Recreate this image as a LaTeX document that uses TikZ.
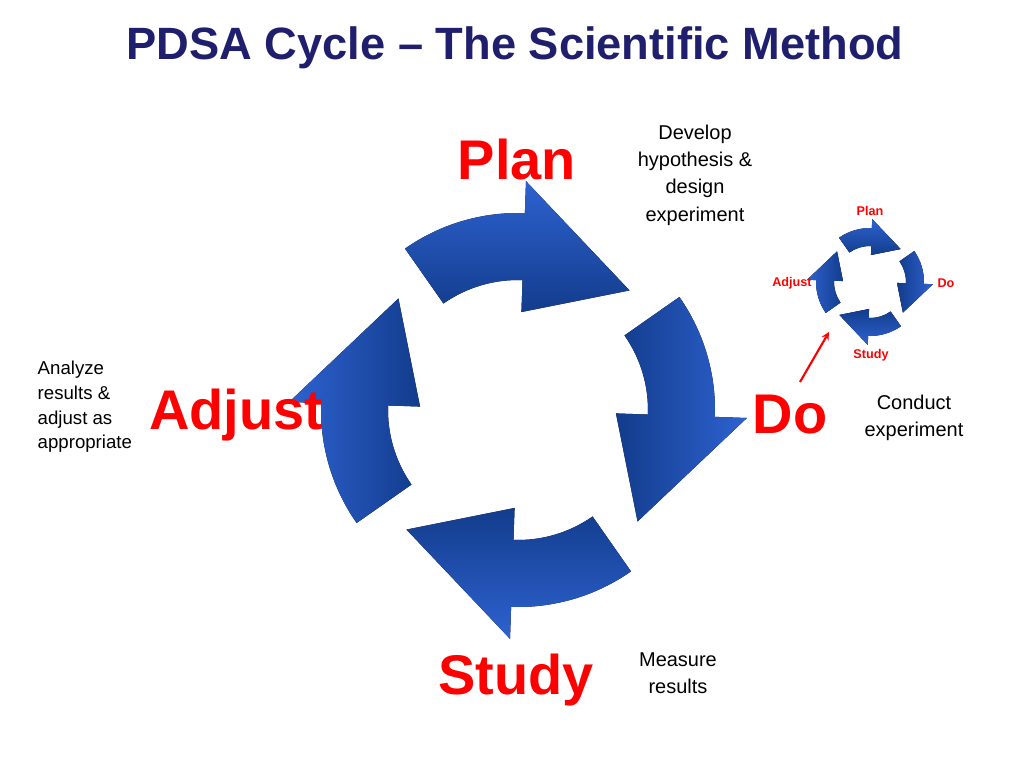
\documentclass[tikz,border=0pt]{standalone}
\usepackage{fontspec}
\setmainfont{Liberation Sans}
\usetikzlibrary{calc}
\definecolor{navy}{HTML}{1F1F6E}
\definecolor{pred}{HTML}{FF0000}
\definecolor{bdark}{HTML}{123C8C}
\definecolor{blight}{HTML}{2E62D0}
\newcommand{\cycarrow}[9]{%
 \fill[top color=blight,bottom color=bdark,shading angle=#9] ($(#1)+(#2:#6)$) arc[start angle=#2,end angle=#3,radius=#6]
  -- ($(#1)+(#3:#6+#7)$) -- ($(#1)+(#4:#5/2+#6/2)$) -- ($(#1)+(#3:#5-#7)$) -- ($(#1)+(#3:#5)$)
  arc[start angle=#3,end angle=#2,radius=#5] -- cycle;}
\begin{document}
\begin{tikzpicture}[x=0.0264cm,y=0.0264cm,
 big/.style={font=\bfseries\fontsize{42}{48}\selectfont,text=pred},
 side/.style={font=\fontsize{15}{20.5}\selectfont,align=center,text=black},
 small/.style={font=\bfseries\fontsize{9.5}{11}\selectfont,text=pred}]
\useasboundingbox (0,0) rectangle (1024,768);
\coordinate (c) at (518,358);
\coordinate (sc) at (870,486);
\cycarrow{c}{125}{88}{47}{130}{197}{32}{p}{0}
\cycarrow{c}{35}{-2}{-43}{130}{197}{32}{d}{-90}
\cycarrow{c}{-55}{-92}{-133}{130}{197}{32}{s}{180}
\cycarrow{c}{-145}{-182}{-223}{130}{197}{32}{a}{90}
\cycarrow{sc}{125}{88}{47}{36}{54}{9}{p}{0}
\cycarrow{sc}{35}{-2}{-43}{36}{54}{9}{d}{-90}
\cycarrow{sc}{-55}{-92}{-133}{36}{54}{9}{s}{180}
\cycarrow{sc}{-145}{-182}{-223}{36}{54}{9}{a}{90}
\node[font=\bfseries\fontsize{34}{40}\selectfont,text=navy] (title) at (515,720) {PDSA Cycle -- The Scientific Method};
\node[big] (plan) at (517,608) {Plan};
\node[big] (do) at (790,353) {Do};
\node[big] (study) at (516,88) {Study};
\node[big] (adjust) at (236,353) {Adjust};
\node[side] (t1) at (695,593) {Develop\\hypothesis \&\\design\\experiment};
\node[side] (t2) at (914,350) {Conduct\\experiment};
\node[side] (t3) at (678,95) {Measure\\results};
\node[side,align=left,anchor=west,font=\fontsize{14}{18.5}\selectfont] (t4) at (33,361) {Analyze\\results \&\\adjust as\\appropriate};
\node[small] (sp) at (870,557) {Plan};
\node[small] (sd) at (946,485) {Do};
\node[small] (ss) at (871,413) {Study};
\node[small] (sa) at (792,485) {Adjust};
\coordinate (r1) at (800,386);
\coordinate (r2) at (829,436);
\draw[pred,line width=1.6pt,-stealth] (r1) -- (r2);
\end{tikzpicture}
\end{document}
